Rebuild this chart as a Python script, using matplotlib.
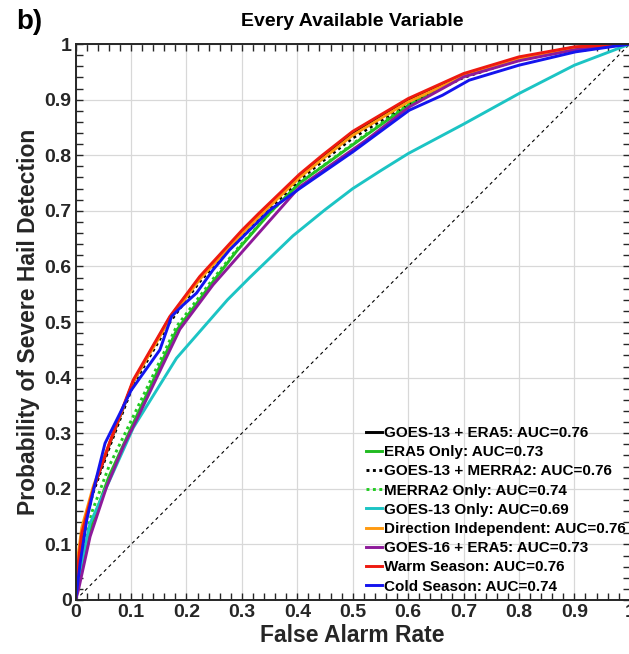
import matplotlib
matplotlib.use("Agg")
import matplotlib.pyplot as plt
import numpy as np

plt.rcParams['font.family'] = ['Liberation Sans', 'DejaVu Sans']
plt.rcParams['font.weight'] = 'bold'

# ROC curves (false alarm rate, probability of detection)
red_x = [0, 0.005, 0.011, 0.032, 0.062, 0.104, 0.17, 0.224, 0.3, 0.33, 0.404, 0.445, 0.5, 0.6, 0.7, 0.8, 0.9, 1.0]
red_y = [0, 0.07, 0.12, 0.2, 0.285, 0.396, 0.51, 0.582, 0.665, 0.695, 0.766, 0.80, 0.843, 0.902, 0.947, 0.977, 0.995, 1.0]

black_x = red_x
black_y = [0, 0.07, 0.12, 0.2, 0.283, 0.393, 0.508, 0.58, 0.662, 0.692, 0.763, 0.797, 0.840, 0.899, 0.945, 0.975, 0.994, 1.0]

blackdot_x = red_x
blackdot_y = [0, 0.068, 0.118, 0.195, 0.278, 0.388, 0.5, 0.573, 0.655, 0.685, 0.756, 0.789, 0.831, 0.892, 0.94, 0.972, 0.993, 1.0]

orange_x = red_x
orange_y = [0, 0.085, 0.13, 0.205, 0.285, 0.393, 0.505, 0.577, 0.659, 0.689, 0.760, 0.793, 0.836, 0.896, 0.942, 0.974, 0.993, 1.0]

blue_x = [0, 0.008, 0.02, 0.035, 0.053, 0.08, 0.1, 0.152, 0.173, 0.191, 0.218, 0.248, 0.278, 0.35, 0.404, 0.5,
          0.602, 0.662, 0.71, 0.8, 0.902, 1.0]
blue_y = [0, 0.066, 0.144, 0.21, 0.282, 0.336, 0.377, 0.45, 0.51, 0.528, 0.552, 0.594, 0.63, 0.701, 0.74, 0.806,
          0.881, 0.908, 0.935, 0.962, 0.986, 1.0]

purple_x = [0, 0.005, 0.026, 0.056, 0.086, 0.11, 0.188, 0.248, 0.302, 0.404, 0.524, 0.602, 0.7, 0.8, 0.902, 1.0]
purple_y = [0, 0.018, 0.114, 0.204, 0.276, 0.324, 0.487, 0.567, 0.628, 0.743, 0.827, 0.887, 0.941, 0.97, 0.99, 1.0]

greendot_x = [0, 0.01, 0.03, 0.06, 0.098, 0.182, 0.242, 0.29, 0.35, 0.404, 0.524, 0.602, 0.7, 0.8, 0.9, 1.0]
greendot_y = [0, 0.08, 0.16, 0.24, 0.318, 0.492, 0.57, 0.63, 0.696, 0.75, 0.838, 0.893, 0.944, 0.972, 0.992, 1.0]

green_x = greendot_x
green_y = [0, 0.06, 0.14, 0.222, 0.305, 0.485, 0.565, 0.627, 0.696, 0.75, 0.836, 0.891, 0.943, 0.971, 0.991, 1.0]

cyan_x = [0, 0.005, 0.026, 0.067, 0.104, 0.182, 0.274, 0.314, 0.392, 0.45, 0.5, 0.55, 0.6, 0.7, 0.8, 0.9, 1.0]
cyan_y = [0, 0.04, 0.138, 0.228, 0.31, 0.435, 0.54, 0.58, 0.655, 0.702, 0.74, 0.772, 0.803, 0.856, 0.911, 0.962, 1.0]

labels = ["GOES-13 + ERA5: AUC=0.76", "ERA5 Only: AUC=0.73", "GOES-13 + MERRA2: AUC=0.76",
          "MERRA2 Only: AUC=0.74", "GOES-13 Only: AUC=0.69", "Direction Independent: AUC=0.76",
          "GOES-16 + ERA5: AUC=0.73", "Warm Season: AUC=0.76", "Cold Season: AUC=0.74"]

dark = '#262626'

fig = plt.figure(figsize=(6.29, 6.54), dpi=100)
ax = fig.add_axes([0.1203, 0.0826, 0.881, 0.850])

lw = 2.1
ax.plot([0, 1], [0, 1], color='k', lw=0.8, ls=(0, (3, 3)), zorder=1)
ax.plot(black_x, black_y, color='k', lw=lw, label=labels[0])
ax.plot(green_x, green_y, color='#22bb22', lw=lw, label=labels[1])
ax.plot(blackdot_x, blackdot_y, color='k', lw=lw, ls=(0, (1, 1.2)), label=labels[2])
ax.plot(greendot_x, greendot_y, color='#22cc22', lw=lw, ls=(0, (1, 1.2)), label=labels[3])
ax.plot(cyan_x, cyan_y, color='#1cc4c4', lw=lw, label=labels[4])
ax.plot(orange_x, orange_y, color='#ff9a10', lw=lw, label=labels[5])
ax.plot(purple_x, purple_y, color='#8e1a9a', lw=lw, label=labels[6])
ax.plot(red_x, red_y, color='#ee1a10', lw=lw, label=labels[7])
ax.plot(blue_x, blue_y, color='#1414ee', lw=lw, label=labels[8])

ax.set_xlim(0, 1)
ax.set_ylim(0, 1)
ax.set_xticks(np.arange(0, 1.01, 0.1))
ax.set_xticklabels(['0', '0.1', '0.2', '0.3', '0.4', '0.5', '0.6', '0.7', '0.8', '0.9', '1'])
ax.set_yticks(np.arange(0, 1.01, 0.1))
ax.set_yticklabels(['0', '0.1', '0.2', '0.3', '0.4', '0.5', '0.6', '0.7', '0.8', '0.9', '1'])
ax.set_xticks(np.arange(0, 1.001, 0.02), minor=True)
ax.set_yticks(np.arange(0, 1.001, 0.02), minor=True)
ax.tick_params(which='both', direction='in', top=True, right=True, length=5, width=1, color=dark,
               labelcolor=dark, labelsize=14, pad=3)
ax.grid(True, which='major', color='#d8d8d8', lw=0.9)
ax.set_axisbelow(True)
for s in ax.spines.values():
    s.set_linewidth(1.4)
    s.set_color(dark)

ax.set_xlabel('False Alarm Rate', fontsize=16.5, fontweight='bold', color=dark, labelpad=2)
ax.set_ylabel('Probability of Severe Hail Detection', fontsize=16.5, fontweight='bold', color=dark, labelpad=3)
ax.set_title('Every Available Variable', fontsize=14, fontweight='bold', pad=13)
fig.text(29 / 629, 1 - 22 / 654, 'b)', fontsize=20, fontweight='bold', va='center', ha='center')

leg = ax.legend(loc='upper left', bbox_to_anchor=(366 / 629, 1 - 426 / 654), bbox_transform=fig.transFigure,
                frameon=False, fontsize=11, handlelength=1.05, handletextpad=0.1, labelspacing=0.34,
                borderpad=0, borderaxespad=0)
for t in leg.get_texts():
    t.set_fontweight('bold')

fig.savefig('out.png', dpi=100)
